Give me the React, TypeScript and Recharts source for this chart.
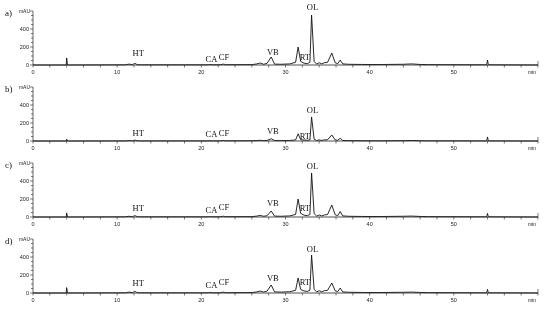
import { LineChart, Line, XAxis, YAxis, ReferenceDot } from "recharts";

// retention time (min), shared by all four runs
const times = [
  0, 3.95, 4.0, 4.1, 11.0, 11.4, 11.8, 12.1, 12.4, 12.8, 20.8, 21.0, 21.3, 22.3, 22.6, 22.9,
  26.0, 26.6, 27.0, 27.4, 27.8, 28.3, 28.7, 29.5, 30.5, 31.2, 31.5, 31.8, 32.2, 32.6, 32.9,
  33.1, 33.4, 33.7, 34.0, 34.3, 34.6, 35.0, 35.5, 35.9, 36.2, 36.5, 36.8, 37.5, 39.0, 41.0,
  44.0, 45.0, 46.0, 47.0, 53.9, 54.0, 54.1, 60.0,
];

// absorbance (mAU)
const runA = [
  0, 0, 78, 0, 2, 10, 3, 18, 3, 2, 2, 6, 2, 3, 10, 3,
  4, 12, 22, 8, 18, 89, 10, 8, 12, 30, 200, 40, 20, 15, 30,
  555, 40, 10, 25, 12, 25, 30, 133, 25, 15, 55, 12, 8, 6, 5,
  8, 12, 6, 4, 2, 55, 2, 0,
];
const runB = [
  0, 0, 20, 0, 1, 5, 2, 10, 2, 1, 1, 3, 1, 2, 6, 2,
  3, 5, 8, 4, 6, 25, 5, 4, 6, 12, 80, 15, 10, 8, 12,
  267, 20, 5, 12, 6, 12, 14, 67, 12, 8, 30, 6, 4, 3, 2,
  4, 6, 3, 2, 1, 45, 1, 0,
];
const runC = [
  0, 0, 45, 0, 2, 8, 3, 15, 3, 2, 2, 5, 2, 3, 9, 3,
  4, 10, 18, 8, 14, 67, 10, 8, 12, 28, 200, 40, 20, 15, 28,
  489, 38, 10, 22, 12, 22, 28, 133, 25, 15, 60, 12, 8, 6, 5,
  8, 10, 6, 4, 2, 40, 2, 0,
];
const runD = [
  0, 0, 60, 0, 2, 10, 3, 18, 3, 2, 2, 6, 2, 3, 10, 3,
  5, 12, 22, 10, 20, 89, 12, 10, 14, 30, 167, 40, 22, 18, 30,
  422, 40, 12, 25, 14, 25, 30, 111, 25, 15, 55, 12, 8, 6, 5,
  8, 10, 6, 4, 2, 40, 2, 0,
];

const peakNames = ["HT", "CA", "CF", "VB", "RT", "OL"];
const peakTimes = [12.5, 21.2, 22.7, 28.5, 32.3, 33.2];
const labelA = [133, 67, 89, 144, 89, 644];
const labelB = [89, 78, 89, 111, 55, 344];
const labelC = [100, 78, 111, 155, 100, 567];
const labelD = [111, 89, 122, 167, 122, 489];

const panelNames = ["a)", "b)", "c)", "d)"];
const xTicks = [0, 2, 4, 6, 8, 10, 12, 14, 16, 18, 20, 22, 24, 26, 28, 30, 32, 34, 36, 38, 40, 42, 44, 46, 48, 50, 52, 54, 56, 58, 60];
const yTicks = [0, 50, 100, 150, 200, 250, 300, 350, 400, 450, 500, 550, 600];

const runs = [runA, runB, runC, runD];
const labels = [labelA, labelB, labelC, labelD];

const PANEL_H = 76;
const AXIS = "#222";
const SANS = "'Liberation Sans', Arial, sans-serif";
const SERIF = "'Liberation Serif', 'Times New Roman', serif";

function YTick(props: any) {
  const { x, y, payload } = props;
  const v = payload.value;
  const major = v % 200 === 0;
  return (
    <g>
      <line x1={x - (major ? 3 : 2)} x2={x} y1={y} y2={y} stroke={AXIS} strokeWidth={0.6} />
      {v === 600 ? (
        <text x={x - 3} y={y + 2} textAnchor="end" fontSize={5} fontFamily={SANS} fill="#222">
          mAU
        </text>
      ) : major ? (
        <text x={x - 4} y={y + 2} textAnchor="end" fontSize={5.5} fontFamily={SANS} fill="#222">
          {v}
        </text>
      ) : null}
    </g>
  );
}

function XTick(props: any) {
  const { x, y, payload } = props;
  const v = payload.value;
  return (
    <g>
      <line x1={x} x2={x} y1={v === 60 ? y - 4 : y} y2={y + 2.5} stroke={AXIS} strokeWidth={0.6} />
      {v === 60 ? (
        <text x={x - 2} y={y + 8.5} textAnchor="end" fontSize={5} fontFamily={SANS} fill="#222">
          min
        </text>
      ) : v % 10 === 0 ? (
        <text x={x} y={y + 8.5} textAnchor="middle" fontSize={5.5} fontFamily={SANS} fill="#222">
          {v}
        </text>
      ) : null}
    </g>
  );
}

function PeakLabel(props: any) {
  const { viewBox, value } = props;
  const cx = viewBox.x + (viewBox.width || 0) / 2;
  const cy = viewBox.y + (viewBox.height || 0) / 2;
  return (
    <text x={cx} y={cy + 3} textAnchor="middle" fontSize={8.5} fontFamily={SERIF} fill="#111" stroke="none">
      {value}
    </text>
  );
}

function Panel({ run, heights, name }: { run: number[]; heights: number[]; name: string }) {
  const data = times.map((t, i) => ({ t, v: run[i] }));
  return (
    <div style={{ position: "relative", width: 550, height: PANEL_H }}>
      <span
        style={{
          position: "absolute",
          left: 5,
          top: 9,
          fontFamily: SERIF,
          fontSize: 9,
          lineHeight: 1,
          color: "#111",
        }}
      >
        {name}
      </span>
      <LineChart width={550} height={PANEL_H} data={data} margin={{ top: 11, right: 12, left: 8, bottom: 0 }}>
        <XAxis
          dataKey="t"
          type="number"
          domain={[0, 60]}
          ticks={xTicks}
          interval={0}
          height={11}
          tickSize={0}
          tickMargin={0}
          tickLine={false}
          axisLine={{ stroke: AXIS, strokeWidth: 0.8 }}
          tick={<XTick />}
        />
        <YAxis
          type="number"
          domain={[0, 600]}
          ticks={yTicks}
          interval={0}
          width={25}
          tickSize={0}
          tickMargin={0}
          tickLine={false}
          axisLine={{ stroke: AXIS, strokeWidth: 0.7 }}
          tick={<YTick />}
        />
        <Line
          type="linear"
          dataKey="v"
          stroke="#111"
          strokeWidth={0.9}
          dot={false}
          isAnimationActive={false}
        />
        {peakNames.map((p, i) => (
          <ReferenceDot
            key={p}
            x={peakTimes[i]}
            y={heights[i]}
            r={1}
            fill="none"
            stroke="none"
            ifOverflow="visible"
            label={<PeakLabel value={p} />}
          />
        ))}
      </LineChart>
    </div>
  );
}

export default function App() {
  return (
    <div
      style={{
        position: "absolute",
        left: 0,
        top: 0,
        width: 550,
        height: 312,
        background: "#fff",
        willChange: "transform",
      }}
    >
      {runs.map((r, i) => (
        <Panel key={panelNames[i]} run={r} heights={labels[i]} name={panelNames[i]} />
      ))}
    </div>
  );
}
